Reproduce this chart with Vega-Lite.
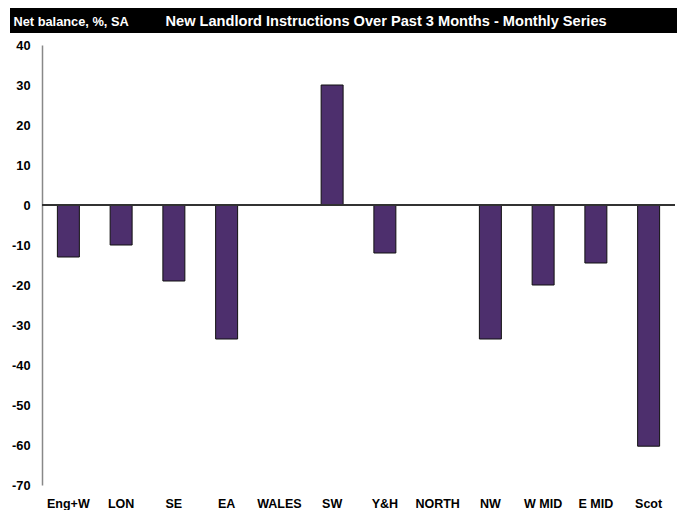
{
  "$schema": "https://vega.github.io/schema/vega-lite/v6.json",
  "padding": {"top": 8, "left": 10, "right": 0, "bottom": 0},
  "background": "white",
  "spacing": 1,
  "config": {
    "font": "Liberation Sans",
    "view": {"stroke": null}
  },
  "vconcat": [
    {
      "width": 667,
      "height": 25,
      "view": {"fill": "black", "stroke": null},
      "data": {"values": [{"t": ""}]},
      "mark": {"type": "text"},
      "encoding": {
        "text": {"field": "t", "type": "nominal"},
        "x": {"datum": 0, "type": "quantitative", "scale": {"domain": [0, 1]},
          "axis": {"domain": false, "ticks": false, "labels": false, "grid": false,
            "title": "New Landlord Instructions Over Past 3 Months - Monthly Series",
            "titleX": 155, "titleY": -12, "titleAlign": "left", "titleAnchor": null, "titleBaseline": "middle",
            "titleColor": "white", "titleFontSize": 14.6, "titleFontWeight": "bold"}},
        "y": {"datum": 0, "type": "quantitative", "scale": {"domain": [0, 1]},
          "axis": {"domain": false, "ticks": false, "labels": false, "grid": false,
            "title": "Net balance, %, SA",
            "titleX": 3, "titleY": 13, "titleAngle": 0, "titleAlign": "left", "titleAnchor": null, "titleBaseline": "middle",
            "titleColor": "white", "titleFontSize": 12.8, "titleFontWeight": "bold"}}
      }
    },
    {
      "spacing": 0,
      "hconcat": [
        {
          "width": 1,
          "height": 1,
          "data": {"values": [{"t": ""}]},
          "mark": {"type": "text"},
          "encoding": {"text": {"field": "t", "type": "nominal"}}
        },
        {
          "width": 633,
          "height": 440,
          "data": {"values": [
            {"region": "Eng+W", "value": -13},
            {"region": "LON", "value": -10},
            {"region": "SE", "value": -19},
            {"region": "EA", "value": -33.5},
            {"region": "WALES", "value": 0},
            {"region": "SW", "value": 30},
            {"region": "Y&H", "value": -12},
            {"region": "NORTH", "value": 0},
            {"region": "NW", "value": -33.5},
            {"region": "W MID", "value": -20},
            {"region": "E MID", "value": -14.5},
            {"region": "Scot", "value": -60.3}
          ]},
          "resolve": {"axis": {"y": "independent"}},
          "layer": [
            {
              "mark": {"type": "bar", "fill": "#4D2F6D", "stroke": "#111111", "strokeWidth": 1},
              "encoding": {
                "x": {"field": "region", "type": "nominal", "sort": null,
                  "scale": {"paddingInner": 0.583, "paddingOuter": 0.2915},
                  "axis": {"title": null, "domain": false, "ticks": false, "labelAngle": 0,
                    "labelPadding": 12, "labelFontSize": 12.5, "labelFontWeight": "bold", "labelColor": "black"}},
                "y": {"field": "value", "type": "quantitative",
                  "scale": {"domain": [-70, 40], "nice": false, "zero": false},
                  "axis": {"title": null, "values": [-70, -60, -50, -40, -30, -20, -10, 0, 10, 20, 30, 40],
                    "labelExpr": "'' + datum.value", "labelOverlap": false, "labelBound": false, "labelFlush": false,
                    "grid": false, "ticks": false, "domain": true, "domainColor": "#888888", "domainWidth": 1.5,
                    "labelPadding": 12, "labelFontSize": 12.8, "labelFontWeight": "bold", "labelColor": "black",
                    "minExtent": 31}}
              }
            },
            {
              "mark": {"type": "rule", "color": "#333333", "strokeWidth": 1},
              "encoding": {"y": {"datum": 0, "type": "quantitative", "axis": null}}
            }
          ]
        }
      ]
    }
  ]
}
